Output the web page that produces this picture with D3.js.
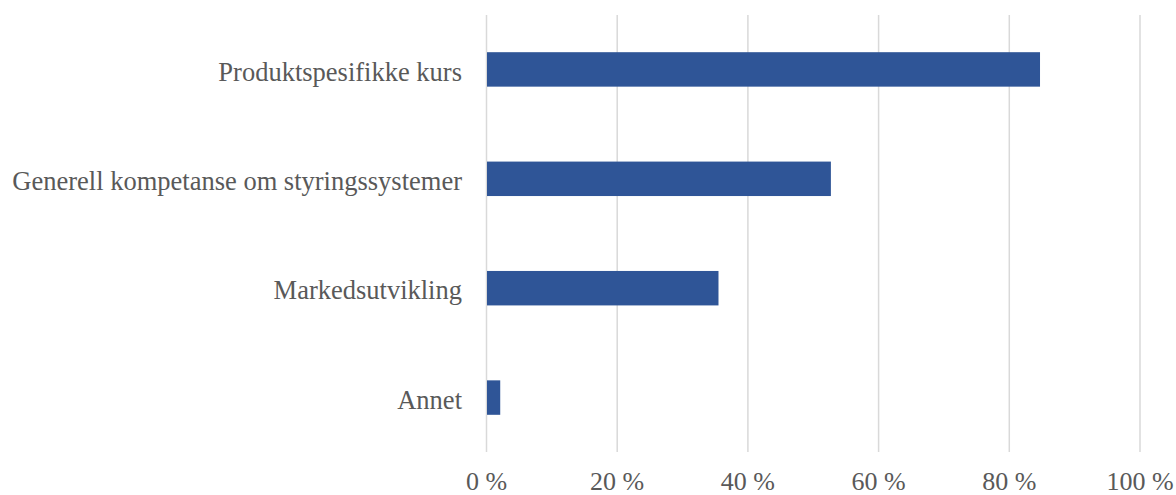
<!DOCTYPE html>
<html><head><meta charset="utf-8">
<script src="https://cdn.jsdelivr.net/npm/d3@7"></script>
<style>body{margin:0;background:#fff}svg{display:block}</style>
</head><body>
<svg id="c" width="1176" height="495"></svg>
<script>
const categories = ["Produktspesifikke kurs","Generell kompetanse om styringssystemer","Markedsutvikling","Annet"];
const values = [84.7, 52.7, 35.5, 2.1];
const tickValues = [0,20,40,60,80,100];

const svg = d3.select("#c");
const m = {left:486.5, right:1140, top:15, bottom:452};
const x = d3.scaleLinear().domain([0,100]).range([m.left, m.right]);
const y = d3.scaleBand().domain(categories).range([m.top, m.bottom]).paddingInner(0.685).paddingOuter(0.34);

const font = "'Liberation Serif','Times New Roman',serif";

svg.append("g").selectAll("line").data(tickValues).join("line")
  .attr("x1", d=>x(d)).attr("x2", d=>x(d))
  .attr("y1", m.top).attr("y2", m.bottom)
  .attr("stroke", "#d9d9d9").attr("stroke-width", 1.5);

svg.append("g").selectAll("rect").data(values).join("rect")
  .attr("x", x(0)+0.5)
  .attr("y", (d,i)=>y(categories[i]))
  .attr("width", d=>x(d)-x(0)-0.5)
  .attr("height", y.bandwidth())
  .attr("fill", "#2F5597");

svg.append("g").selectAll("text").data(categories).join("text")
  .attr("x", 462).attr("y", d=>y(d)+y.bandwidth()/2+2)
  .attr("dy","0.35em").attr("text-anchor","end")
  .attr("font-family", font).attr("font-size", 26.5).attr("fill","#595959")
  .text(d=>d);

svg.append("g").selectAll("text").data(tickValues).join("text")
  .attr("x", d=>x(d)).attr("y", 490)
  .attr("text-anchor","middle")
  .attr("font-family", font).attr("font-size", 26).attr("fill","#595959")
  .text(d=>d+" %");
</script>
</body></html>
